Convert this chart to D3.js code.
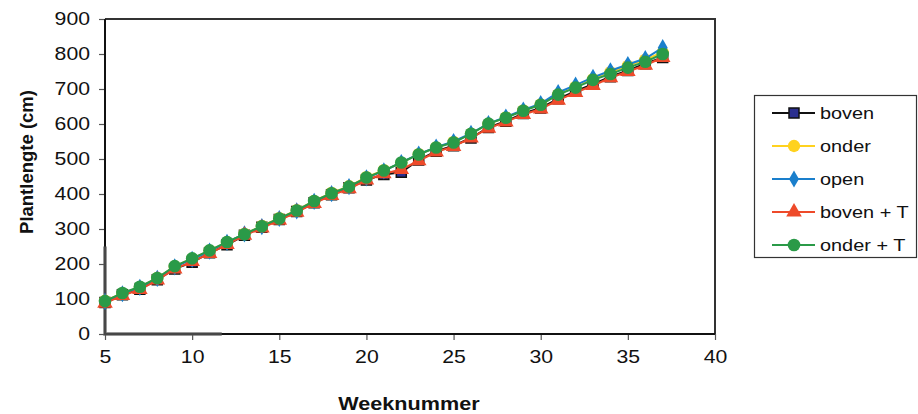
<!DOCTYPE html>
<html>
<head>
	<meta charset="utf-8">
	<title>Plantlengte per week</title>
	<script src="https://cdn.jsdelivr.net/npm/d3@7"></script>
	<style>
		body { margin: 0; background: #fff; }
		svg text { font-family: "Liberation Sans", Arial, sans-serif; fill: #111; }
		.axis .tick line { stroke: #555; stroke-width: 1.2; }
		.axis text { font-size: 18px; }
		.ylab text { transform-box: fill-box; transform-origin: 100% 50%; transform: scaleX(1.18); }
		.xlab text { transform-box: fill-box; transform-origin: 50% 50%; transform: scaleX(1.18); }
		.wide-c { transform-box: fill-box; transform-origin: 50% 50%; transform: scaleX(1.2); }
		.wide-l { transform-box: fill-box; transform-origin: 0% 50%; transform: scaleX(1.17); }
	</style>
</head>
<body>
<script>
	var width = 918, height = 414;
	var margin = {left: 105, right: 203, top: 19, bottom: 80};

	// data
	var weeks = [5,6,7,8,9,10,11,12,13,14,15,16,17,18,19,20,21,22,23,24,25,26,27,28,29,30,31,32,33,34,35,36,37];
	var boven  = [90,112,128,155,186,205,232,255,282,305,327,350,375,398,418,440,456,462,497,522,538,560,590,608,630,646,672,694,714,735,753,772,790];
	var onder  = [95,116,134,160,193,215,238,262,286,309,331,354,380,403,422,448,468,488,514,533,549,572,600,619,639,656,684,706,728,748,766,784,805];
	var open   = [93,115,133,159,192,213,237,262,286,307,330,352,379,401,421,446,466,490,514,534,550,573,601,620,640,658,690,711,733,752,770,787,818];
	var bovenT = [88,110,127,154,186,207,230,256,282,303,325,348,373,396,415,440,458,470,495,520,536,560,588,606,627,643,668,690,710,732,750,768,790];
	var onderT = [94,117,135,160,194,216,239,263,285,308,330,353,380,402,421,447,467,490,513,533,547,572,601,618,638,655,684,704,726,743,761,778,800];

	var seriesNames = ["boven", "onder", "open", "boven + T", "onder + T"];
	var seriesData = [boven, onder, open, bovenT, onderT];
	var lineColors = ["#111111", "#ffd21f", "#1a7fcc", "#ee4a2a", "#2a9a48"];
	var markColors = ["#2b2f8f", "#ffd21f", "#1a7fcc", "#ee4a2a", "#2a9a48"];
	var markStroke = ["#111111", "none", "none", "none", "none"];
	var markTypes = [d3.symbolSquare, d3.symbolCircle, d3.symbolDiamond, d3.symbolTriangle, d3.symbolCircle];
	var markSizes = [100, 120, 85, 105, 125];

	var xTicks = [5,10,15,20,25,30,35,40];
	var yTicks = [0,100,200,300,400,500,600,700,800,900];

	var svg = d3.select("body").append("svg")
		.attr("width", width)
		.attr("height", height);

	var x = d3.scaleLinear().domain([5, 40]).range([margin.left, width - margin.right]);
	var y = d3.scaleLinear().domain([0, 900]).range([height - margin.bottom, margin.top]);

	// axes
	var gy = svg.append("g")
		.attr("class", "axis ylab")
		.attr("transform", "translate(" + margin.left + ",0)")
		.call(d3.axisLeft(y).tickValues(yTicks).tickSize(6).tickPadding(9));
	var gx = svg.append("g")
		.attr("class", "axis xlab")
		.attr("transform", "translate(0," + (height - margin.bottom) + ")")
		.call(d3.axisBottom(x).tickValues(xTicks).tickSize(6).tickPadding(10));
	gy.select(".domain").remove();
	gx.select(".domain").remove();

	// plot frame
	var x0 = x(5), x1 = x(40), y0 = y(0), y1 = y(900);
	svg.append("path")
		.attr("d", "M" + x0 + "," + y1 + "H" + x1 + "V" + y0)
		.attr("fill", "none").attr("stroke", "#333").attr("stroke-width", 2);
	svg.append("path")
		.attr("d", "M" + x0 + "," + y1 + "V" + y0 + "H" + x1)
		.attr("fill", "none").attr("stroke", "#111").attr("stroke-width", 2);
	// darker smudged stretch of the axes near the origin
	svg.append("path")
		.attr("d", "M" + x0 + "," + y(250) + "V" + y0 + "H" + x(11.7))
		.attr("fill", "none").attr("stroke", "#555").attr("stroke-width", 3.5).attr("opacity", 0.8);

	// series
	var line = d3.line()
		.x(function(d, i){ return x(weeks[i]); })
		.y(function(d){ return y(d); });

	seriesData.forEach(function(vals, s){
		var g = svg.append("g");
		g.append("path")
			.datum(vals)
			.attr("d", line)
			.attr("fill", "none")
			.attr("stroke", lineColors[s])
			.attr("stroke-width", 2);
		g.selectAll("path.mark")
			.data(vals)
			.enter()
			.append("path")
			.attr("class", "mark")
			.attr("transform", function(d, i){ return "translate(" + x(weeks[i]) + "," + y(d) + ")"; })
			.attr("d", d3.symbol().type(markTypes[s]).size(markSizes[s]))
			.attr("fill", markColors[s])
			.attr("stroke", markStroke[s])
			.attr("stroke-width", 1.5);
	});

	// axis titles
	svg.append("text")
		.attr("class", "wide-c")
		.attr("x", (x0 + x1) / 2 - 1)
		.attr("y", 410)
		.attr("text-anchor", "middle")
		.attr("font-size", 18)
		.attr("font-weight", "bold")
		.text("Weeknummer");
	svg.append("text")
		.attr("transform", "translate(33," + 162 + ") rotate(-90)")
		.attr("text-anchor", "middle")
		.attr("font-size", 18.5)
		.attr("font-weight", "bold")
		.text("Plantlengte (cm)");

	// legend
	var legend = svg.append("g");
	legend.append("rect")
		.attr("x", 754.5).attr("y", 95.5)
		.attr("width", 162).attr("height", 162)
		.attr("fill", "#fff").attr("stroke", "#333").attr("stroke-width", 1.2);
	seriesNames.forEach(function(name, s){
		var ly = 113 + s * 33;
		legend.append("line")
			.attr("x1", 772).attr("x2", 815)
			.attr("y1", ly).attr("y2", ly)
			.attr("stroke", lineColors[s]).attr("stroke-width", 2);
		legend.append("path")
			.attr("transform", "translate(794," + ly + ")")
			.attr("d", d3.symbol().type(markTypes[s]).size(markSizes[s]))
			.attr("fill", markColors[s])
			.attr("stroke", markStroke[s])
			.attr("stroke-width", 1.5);
		legend.append("text")
			.attr("class", "wide-l")
			.attr("x", 820)
			.attr("y", ly + 6)
			.attr("font-size", 17)
			.text(name);
	});
</script>
</body>
</html>
